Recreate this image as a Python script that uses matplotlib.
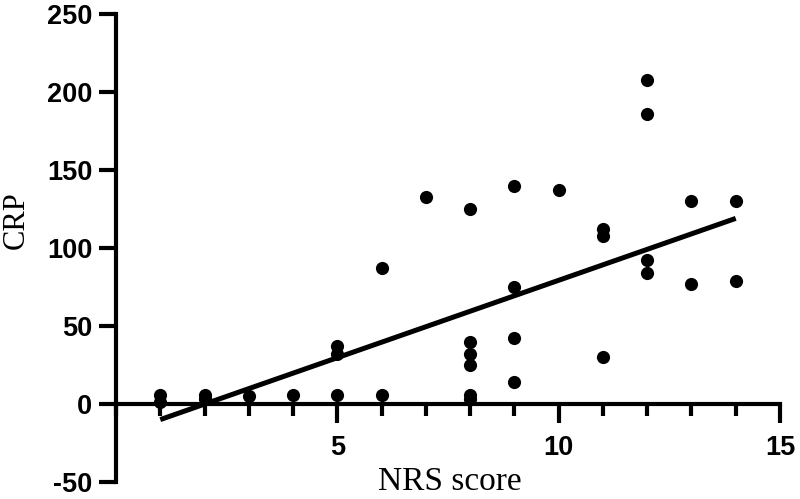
import numpy as np
import matplotlib
matplotlib.use("Agg")
import matplotlib.pyplot as plt
from matplotlib.ticker import MultipleLocator

plt.rcParams["axes.unicode_minus"] = False

# NRS score vs CRP
nrs = [1, 1, 2, 2, 3, 4, 5, 5, 5, 6, 6, 7,
       8, 8, 8, 8, 8, 8, 9, 9, 9, 9, 10,
       11, 11, 11, 12, 12, 12, 12, 13, 13, 14, 14]
crp = [6, 1, 6, 3, 5, 6, 37, 32, 6, 87, 6, 133,
       125, 40, 32, 25, 6, 3, 140, 75, 42, 14, 137,
       112, 108, 30, 208, 186, 92, 84, 130, 77, 130, 79]

# regression line as drawn in the reference
fit_x = [1, 14]
fit_slope = 9.92
fit_intercept = -19.9

x = np.array(nrs, dtype=float)
y = np.array(crp, dtype=float)
fx = np.array(fit_x, dtype=float)
fy = fit_slope * fx + fit_intercept

fig = plt.figure(figsize=(8, 4.99), dpi=100)
ax = fig.add_axes([0.145, 0.034, 0.83, 0.938])

ax.scatter(x, y, s=90, color="black", zorder=3, linewidths=0)
ax.plot(fx, fy, color="black", lw=3.6, solid_capstyle="butt", zorder=2)

ax.set_xlim(0, 15)
ax.set_ylim(-50, 250)
ax.spines["top"].set_visible(False)
ax.spines["right"].set_visible(False)
ax.spines["bottom"].set_position(("data", 0))
for s in ("left", "bottom"):
    ax.spines[s].set_linewidth(3)
    ax.spines[s].set_capstyle("projecting")

ax.set_xticks([5, 10, 15])
ax.xaxis.set_minor_locator(MultipleLocator(1))
ax.set_yticks(np.arange(-50, 251, 50))
ax.tick_params(axis="x", which="major", length=14, width=3, direction="out", pad=8)
ax.tick_params(axis="x", which="minor", length=8.5, width=3, direction="out")
ax.tick_params(axis="y", which="major", length=12, width=3, direction="out", pad=5)

for lab in ax.get_xticklabels() + ax.get_yticklabels():
    lab.set_fontfamily("Liberation Sans")
    lab.set_fontweight("bold")
    lab.set_fontsize(19.5)

ax.set_xlabel("NRS score", fontfamily="Liberation Serif", fontsize=24)
ax.xaxis.set_label_coords(0.503, 0.0)
ax.xaxis.label.set_va("center")
ax.set_ylabel("CRP", fontfamily="Liberation Serif", fontsize=22)
ax.yaxis.set_label_coords(-0.128, 0.56)

fig.savefig("out.png", dpi=100)
